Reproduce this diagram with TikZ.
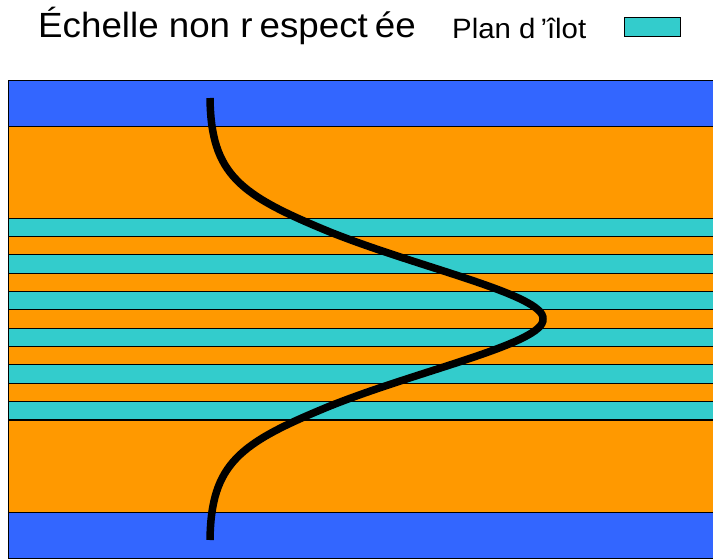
\documentclass[tikz,border=0pt]{standalone}
\usepackage{fontspec}
\setmainfont{Liberation Sans}
\newfontfamily\widesans[FakeStretch=1.05]{Liberation Sans}
\definecolor{cblue}{HTML}{3366FF}
\definecolor{corange}{HTML}{FF9900}
\definecolor{ccyan}{HTML}{33CCCC}
\begin{document}
\begin{tikzpicture}[x=1pt,y=-1pt,
  band/.style={draw=black,line width=1pt},
  curveline/.style={line width=7.5pt,line cap=butt,black}]
\useasboundingbox (0,0) rectangle (713,560);
% bands
\draw[band,fill=cblue] (8.5,80.7) rectangle (716,126.7);
\draw[band,fill=corange] (8.5,126.7) rectangle (716,218.3);
\foreach \i in {0,...,5}{
  \pgfmathsetmacro{\ya}{218.3+36.67*\i}
  \pgfmathsetmacro{\yb}{\ya+18.33}
  \pgfmathsetmacro{\yc}{\yb+18.33}
  \draw[band,fill=ccyan] (8.5,\ya) rectangle (716,\yb);
  \ifnum\i<5 \draw[band,fill=corange] (8.5,\yb) rectangle (716,\yc);\fi
}
\draw[band,fill=corange] (8.5,420) rectangle (716,512.7);
\draw[band,fill=cblue] (8.5,512.7) rectangle (716,558.2);
% curve
\coordinate (ctop) at (210,98);
\coordinate (cup) at (330,232);
\coordinate (ctip) at (543,319);
\coordinate (cdown) at (330,406);
\coordinate (cbot) at (210,540);
\draw[curveline] (ctop) .. controls (211,175) and (240,195) .. (cup)
  .. controls (420,268) and (545,295) .. (ctip)
  .. controls (545,343) and (420,370) .. (cdown)
  .. controls (240,443) and (211,463) .. (cbot);
% legend
\node[anchor=base west,inner sep=0pt,font=\widesans\fontsize{35}{35}\selectfont] (title) at (38,37.5)
  {Échelle non r\kern7pt espect\kern7pt ée};
\node[anchor=base west,inner sep=0pt,font=\widesans\fontsize{28}{28}\selectfont] (plan) at (452,38)
  {Plan d\kern5pt’îlot};
\node[draw=black,line width=1pt,fill=ccyan,minimum width=56pt,minimum height=18.5pt,inner sep=0pt,anchor=north west] (key) at (624,17.3) {};
\end{tikzpicture}
\end{document}
